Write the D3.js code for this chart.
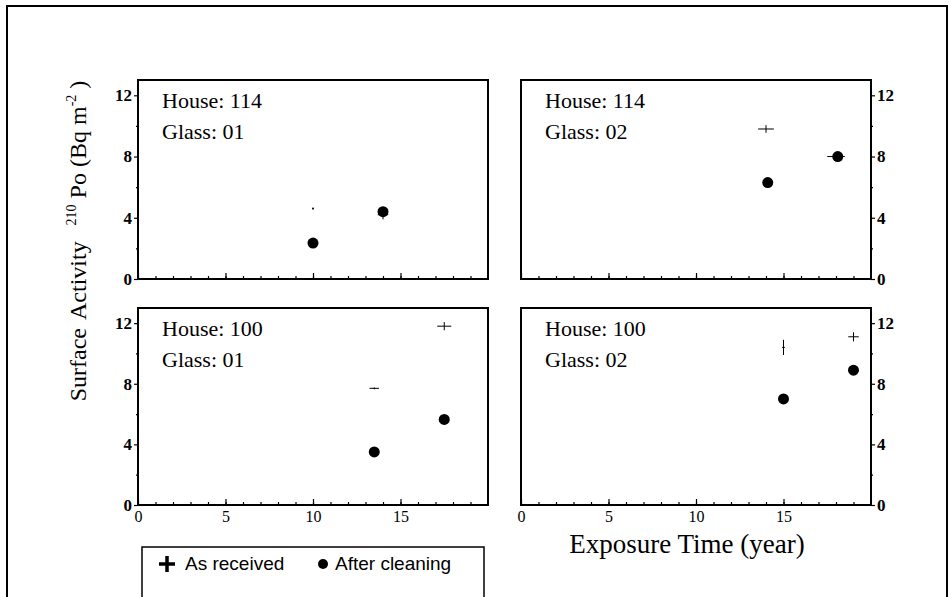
<!DOCTYPE html>
<html>
<head>
  <script src="https://d3js.org/d3.v7.min.js"></script>
  <style>
    body { margin: 0; background: #fff; }
    svg text { fill: #000; }
  </style>
</head>
<body>
  <svg id="chart" width="949" height="597"></svg>
  <script>
    // panel captions, order: top-left, top-right, bottom-left, bottom-right
    const houses = ["114", "114", "100", "100"];
    const glasses = ["01", "02", "01", "02"];

    // "As received" points (year, Bq m-2) with their half error bars
    const receivedTime = [[10, 14], [14, 18], [13.5, 17.5], [15, 19]];
    const receivedValue = [[4.6, 4.2], [9.8, 8.0], [7.7, 11.8], [10.4, 11.1]];
    const receivedTimeErr = [[0.05, 0.3], [0.45, 0.5], [0.27, 0.4], [0.08, 0.3]];
    const receivedValueErr = [[0.08, 0.3], [0.25, 0.2], [0.06, 0.27], [0.5, 0.3]];

    // "After cleaning" points
    const cleanedTime = [[10, 14], [14.1, 18.1], [13.5, 17.5], [15, 19]];
    const cleanedValue = [[2.35, 4.4], [6.3, 8.0], [3.5, 5.65], [7.0, 8.9]];

    const yTicks = [0, 4, 8, 12];
    const xTicks = [0, 5, 10, 15];

    const serif = "Liberation Serif, serif";
    const sans = "Liberation Sans, Arial, sans-serif";
    const svg = d3.select("#chart");

    // outer figure frame
    svg.append("rect")
      .attr("x", 7).attr("y", 6)
      .attr("width", 940).attr("height", 620)
      .attr("fill", "none").attr("stroke", "#000").attr("stroke-width", 2);

    const cols = [[138, 488], [521, 871]];
    const rows = [[80, 279], [308, 505]];

    houses.forEach((house, i) => {
      const col = i % 2, row = Math.floor(i / 2);
      const x = d3.scaleLinear().domain([0, 20]).range(cols[col]);
      const y = d3.scaleLinear().domain([0, 13]).range([rows[row][1], rows[row][0]]);
      const g = svg.append("g");

      // x minor + major ticks (inward)
      const xMinor = d3.axisBottom(x).tickValues(d3.range(1, 20)).tickSize(-3).tickFormat("");
      g.append("g").attr("transform", `translate(0,${rows[row][1]})`).call(xMinor);
      const xMajor = d3.axisBottom(x).tickValues(xTicks).tickSize(-6).tickPadding(6);
      if (row === 0) xMajor.tickFormat("");
      const xg = g.append("g").attr("transform", `translate(0,${rows[row][1]})`).call(xMajor);

      // y ticks (outward), left for left panels, right for right panels
      const yAxisFn = col === 0 ? d3.axisLeft : d3.axisRight;
      const yx = col === 0 ? cols[0][0] : cols[1][1];
      g.append("g").attr("transform", `translate(${yx},0)`)
        .call(yAxisFn(y).tickValues([2, 6, 10]).tickSize(2).tickFormat(""));
      const yg = g.append("g").attr("transform", `translate(${yx},0)`)
        .call(yAxisFn(y).tickValues(yTicks).tickSize(4).tickPadding(2));

      g.selectAll(".domain").remove();
      g.selectAll(".tick line").attr("stroke", "#000").attr("stroke-width", 1.2);
      xg.selectAll(".tick text")
        .style("font-family", serif).style("font-size", "16px").attr("fill", "#000");
      yg.selectAll(".tick text")
        .style("font-family", serif).style("font-size", "17px")
        .style("font-weight", "bold").attr("fill", "#000");

      // panel border
      g.append("rect")
        .attr("x", cols[col][0]).attr("y", rows[row][0])
        .attr("width", cols[col][1] - cols[col][0])
        .attr("height", rows[row][1] - rows[row][0])
        .attr("fill", "none").attr("stroke", "#000").attr("stroke-width", 2);

      g.append("text")
        .style("font-family", serif).style("font-size", "22px")
        .attr("x", cols[col][0] + 24).attr("y", rows[row][0] + 28)
        .text("House: " + house);
      g.append("text")
        .style("font-family", serif).style("font-size", "22px")
        .attr("x", cols[col][0] + 24).attr("y", rows[row][0] + 59)
        .text("Glass: " + glasses[i]);

      // as received: thin crosses
      receivedTime[i].forEach((t, k) => {
        const v = receivedValue[i][k];
        const te = receivedTimeErr[i][k], ve = receivedValueErr[i][k];
        g.append("line")
          .attr("x1", x(t - te)).attr("x2", x(t + te))
          .attr("y1", y(v)).attr("y2", y(v))
          .attr("stroke", "#000").attr("stroke-width", 1);
        g.append("line")
          .attr("x1", x(t)).attr("x2", x(t))
          .attr("y1", y(v - ve)).attr("y2", y(v + ve))
          .attr("stroke", "#000").attr("stroke-width", 1);
      });

      // after cleaning: filled dots
      g.selectAll(".dot")
        .data(cleanedTime[i].map((t, k) => [t, cleanedValue[i][k]]))
        .enter()
        .append("circle")
        .attr("cx", d => x(d[0]))
        .attr("cy", d => y(d[1]))
        .attr("r", 5.5)
        .attr("fill", "#000");
    });

    // y axis title
    const yTitle = svg.append("text")
      .attr("transform", "translate(86,241) rotate(-90)")
      .attr("text-anchor", "middle")
      .style("font-family", serif)
      .style("font-size", "24px");
    yTitle.append("tspan").text("Surface");
    yTitle.append("tspan").attr("dx", 8).text("Activity");
    yTitle.append("tspan").style("font-size", "14px").attr("dx", 16).attr("dy", -10).text("210");
    yTitle.append("tspan").attr("dy", 10).text(" Po (Bq m");
    yTitle.append("tspan").style("font-size", "14px").attr("dy", -10).text("-2");
    yTitle.append("tspan").attr("dy", 10).text(" )");

    // x axis title
    svg.append("text")
      .attr("x", 687).attr("y", 553)
      .attr("text-anchor", "middle")
      .style("font-family", serif)
      .style("font-size", "27px")
      .text("Exposure Time (year)");

    // legend
    svg.append("rect")
      .attr("x", 142).attr("y", 547)
      .attr("width", 342).attr("height", 70)
      .attr("fill", "#fff").attr("stroke", "#000").attr("stroke-width", 1.5);
    svg.append("path")
      .attr("d", "M159,564 H175 M167,556 V572")
      .attr("stroke", "#000").attr("stroke-width", 3.5);
    svg.append("text")
      .style("font-family", sans).style("font-size", "19px")
      .attr("x", 185).attr("y", 570).text("As received");
    svg.append("circle")
      .attr("cx", 323).attr("cy", 564).attr("r", 5).attr("fill", "#000");
    svg.append("text")
      .style("font-family", sans).style("font-size", "19px")
      .attr("x", 335).attr("y", 570).text("After cleaning");
  </script>
</body>
</html>
